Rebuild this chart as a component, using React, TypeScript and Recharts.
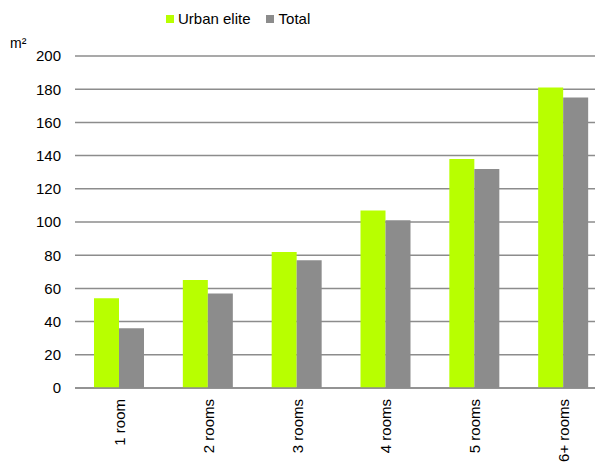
import { Bar, BarChart, CartesianGrid, Legend, XAxis, YAxis } from "recharts"

const categories = ["1 room", "2 rooms", "3 rooms", "4 rooms", "5 rooms", "6+ rooms"]
const urbanElite = [54, 65, 82, 107, 138, 181]
const total = [36, 57, 77, 101, 132, 175]
const yTicks = [0, 20, 40, 60, 80, 100, 120, 140, 160, 180, 200]

const data = categories.map((name, i) => ({
  name,
  urbanElite: urbanElite[i],
  total: total[i],
}))

const font = "'Liberation Sans', Arial, sans-serif"
const GREEN = "#b8ff00"
const GREY = "#8c8c8c"

const RoomTick = (props: any) => {
  const { x, y, payload } = props
  return (
    <text
      x={x}
      y={y + 3}
      transform={`rotate(-90, ${x}, ${y + 3})`}
      textAnchor="end"
      dominantBaseline="central"
      fontSize={15}
      fontFamily={font}
      fill="#000"
    >
      {payload.value}
    </text>
  )
}

const LegendBox = () => (
  <div style={{ display: "flex", alignItems: "center", fontFamily: font, fontSize: 15, color: "#000" }}>
    <span style={{ width: 8, height: 8, background: GREEN, marginRight: 4 }} />
    <span style={{ marginRight: 15 }}>Urban elite</span>
    <span style={{ width: 8, height: 8, background: GREY, marginRight: 5 }} />
    <span>Total</span>
  </div>
)

export default function App() {
  return (
    <div style={{ position: "absolute", top: 0, left: 0, width: 595, height: 465, overflow: "hidden", background: "#fff" }}>
      <BarChart
        width={608}
        height={465}
        data={data}
        margin={{ top: 56, right: 0, bottom: 0, left: 0 }}
        barCategoryGap={19}
        barGap={0}
      >
        <CartesianGrid vertical={false} stroke={GREY} strokeWidth={1.5} />
        <XAxis
          dataKey="name"
          height={77}
          axisLine={{ stroke: GREY, strokeWidth: 1.5 }}
          tickLine={{ stroke: "none" }}
          interval={0}
          tick={<RoomTick />}
        />
        <YAxis
          width={75}
          domain={[0, 200]}
          ticks={yTicks}
          axisLine={{ stroke: "none" }}
          tickLine={{ stroke: "none" }}
          tickSize={6}
          tickMargin={8}
          tick={{ fontSize: 15, fontFamily: font, fill: "#000" }}
          label={{
            content: () => (
              <text x={10} y={48} fontSize={14} fontFamily={font} fill="#000">
                m²
              </text>
            ),
          }}
        />
        <Legend
          layout="horizontal"
          verticalAlign="middle"
          content={<LegendBox />}
          wrapperStyle={{ top: 10, left: 166, width: "auto" }}
        />
        <Bar dataKey="urbanElite" name="Urban elite" fill={GREEN} isAnimationActive={false} />
        <Bar dataKey="total" name="Total" fill={GREY} isAnimationActive={false} />
      </BarChart>
    </div>
  )
}
